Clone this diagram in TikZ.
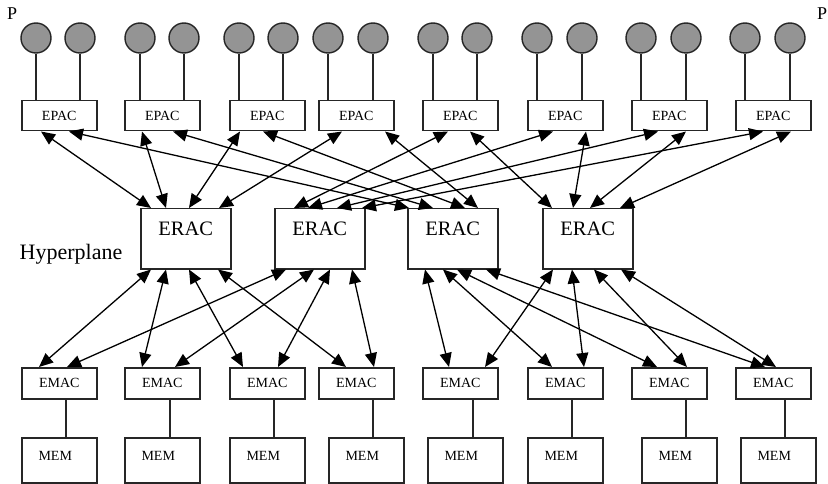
\documentclass[tikz,border=0pt]{standalone}
\usepackage{fontspec}
\setmainfont{Liberation Serif}
\usetikzlibrary{arrows.meta}
\begin{document}
\begin{tikzpicture}[x=1pt,y=-1pt,
  box/.style={draw=black!85,line width=1.5pt,fill=white,inner sep=0pt,anchor=north west},
  pacbox/.style={box,minimum width=75pt,minimum height=30pt,font=\fontsize{14}{16}\selectfont},
  macbox/.style={box,minimum width=75pt,minimum height=31pt,font=\fontsize{14}{16}\selectfont},
  membox/.style={box,minimum width=75pt,minimum height=45pt,font=\fontsize{14}{16}\selectfont,text height=10pt,text depth=10pt},
  racbox/.style={box,minimum width=90pt,minimum height=60pt,font=\fontsize{20.5}{24}\selectfont,text height=14pt,text depth=20pt},
  circ/.style={circle,draw=black!85,line width=1.4pt,fill=black!42,minimum size=30pt,inner sep=0pt},
  plain/.style={line width=1.3pt,draw=black!85},
  arr/.style={line width=1.3pt,>={Triangle[length=14pt,width=12pt]},<->},
  lbl/.style={inner sep=0pt}
]
\useasboundingbox (0,0) rectangle (828,484);

\node[lbl,anchor=base west,font=\fontsize{18}{20}\selectfont] (pleft) at (7,20) {P};
\node[lbl,anchor=base west,font=\fontsize{18}{20}\selectfont] (pright) at (817,20) {P};
\node[lbl,anchor=base,font=\fontsize{22}{26}\selectfont] (hyper) at (71,259) {Hyperplane};

% EPAC and EMAC boxes
\foreach \i/\x in {1/21,2/124,3/229,4/318,5/422,6/527,7/631,8/735}{
  \node[pacbox] (epac\i) at (\x,100) {EPAC};
  \node[macbox] (emac\i) at (\x,367) {EMAC};
}
% MEM boxes
\foreach \i/\x in {1/21,2/124,3/229,4/328,5/427,6/527,7/641,8/740}{
  \node[membox] (mem\i) at (\x,437) {MEM\hspace*{8pt}};
}
% ERAC boxes
\foreach \i/\x in {1/140,2/274,3/407,4/542}{
  \node[racbox] (erac\i) at (\x,208) {ERAC};
}
% processors
\foreach \i/\a/\b in {1/36/80,2/140/184,3/239/283,4/328/373,5/433/477,6/537/582,7/641/686,8/745/790}{
  \node[circ] (ca\i) at (\a,38) {};
  \node[circ] (cb\i) at (\b,38) {};
  \draw[plain] (ca\i.south) -- (ca\i.south |- epac\i.north);
  \draw[plain] (cb\i.south) -- (cb\i.south |- epac\i.north);
}
% EMAC to MEM
\foreach \i/\e/\m in {1/45/45,2/46/46,3/45/45,4/55/45,5/51/46,6/45/45,7/55/45,8/50/45}{
  \draw[plain] ([xshift=\e pt]emac\i.south west) -- ([xshift=\m pt]mem\i.north west);
}
% EPAC <-> ERAC
\foreach \p/\po/\r/\ro in {1/20/1/11,2/18/1/26,3/11/1/49,4/24/1/79,
                           1/48/3/2,2/49/3/26,3/34/3/58,4/67/3/71,
                           5/26/2/20,6/26/2/34,7/27/2/63,8/28/2/88,
                           5/48/4/10,6/59/4/31,7/55/4/48,8/56/4/78}{
  \draw[arr] ([xshift=\po pt]epac\p.south west) -- ([xshift=\ro pt]erac\r.north west);
}
% ERAC <-> EMAC
\foreach \r/\ro/\m/\mo in {1/11/1/18,1/26/2/18,1/49/3/14,1/78/4/28,
                           2/12/1/46,2/40/2/51,2/56/3/49,2/78/4/56,
                           3/18/5/27,3/36/6/25,3/50/7/26,3/79/8/30,
                           4/11/5/63,4/30/6/57,4/52/7/56,4/79/8/41}{
  \draw[arr] ([xshift=\ro pt]erac\r.south west) -- ([xshift=\mo pt]emac\m.north west);
}
\end{tikzpicture}
\end{document}
